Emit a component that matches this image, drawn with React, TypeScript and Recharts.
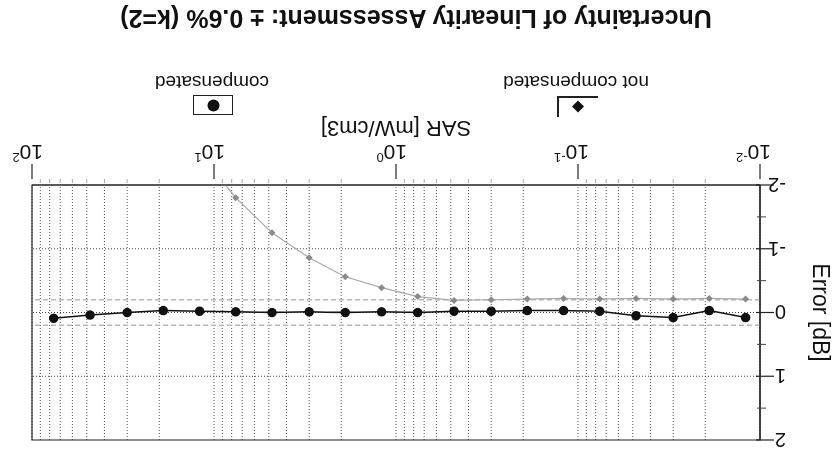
import React from 'react';
import { LineChart, Line, XAxis, YAxis, CartesianGrid, ReferenceLine, ReferenceArea, Label } from 'recharts';

// SAR steps (mW/cm3), 0.2 decade apart
const sarValues = [0.012, 0.019, 0.03, 0.048, 0.076, 0.12, 0.19, 0.3, 0.48, 0.76, 1.2, 1.9, 3.0, 4.8, 7.6, 12, 19, 30, 48, 76];
// linearity error in dB
const compensated = [0.08, -0.03, 0.08, 0.05, -0.02, -0.03, -0.03, -0.02, -0.02, 0.0, -0.01, 0.0, -0.01, 0.0, -0.01, -0.02, -0.03, 0.0, 0.04, 0.09];
const notCompensated = [-0.21, -0.22, -0.21, -0.22, -0.21, -0.22, -0.21, -0.2, -0.19, -0.25, -0.39, -0.56, -0.86, -1.25, -1.8, -2.5];

const decadeTicks = [0.01, 0.1, 1, 10, 100];
const minorTicks = [
  0.02, 0.03, 0.04, 0.05, 0.06, 0.07, 0.08, 0.09,
  0.2, 0.3, 0.4, 0.5, 0.6, 0.7, 0.8, 0.9,
  2, 3, 4, 5, 6, 7, 8, 9,
  20, 30, 40, 50, 60, 70, 80, 90,
];
const errorTicks = [-2, -1, 0, 1, 2];
const errorMinorTicks = [-1.5, -0.5, 0.5, 1.5];
const errorGrid = [-1, 0, 1];
const limitLines = [-0.2, 0.2];

const FONT = '"Liberation Sans", Arial, Helvetica, sans-serif';

const rows = sarValues.map((sar, i) => ({
  sar,
  comp: compensated[i],
  notComp: i < notCompensated.length ? notCompensated[i] : null,
}));

const xTickValues = [...decadeTicks, ...minorTicks].sort((a, b) => a - b);
const yTickValues = [...errorTicks, ...errorMinorTicks].sort((a, b) => a - b);

function SarTick(props: any) {
  const { x, y, payload } = props;
  const v = payload.value;
  if (!decadeTicks.includes(v)) {
    return <line x1={x} x2={x} y1={y} y2={y - 4} stroke="#aaa" />;
  }
  const exp = Math.round(Math.log10(v));
  return (
    <g>
      <line x1={x} x2={x} y1={y} y2={y + 15} stroke="#222" strokeWidth={1.2} />
      <text x={x - 11} y={y + 34} fontSize={21} fontFamily={FONT} fill="#111">
        10
        <tspan dy={-8} fontSize={13}>{exp}</tspan>
      </text>
    </g>
  );
}

function ErrorTick(props: any) {
  const { x, y, payload } = props;
  const v = payload.value;
  if (!errorTicks.includes(v)) {
    return <line x1={x} x2={x + 9} y1={y} y2={y} stroke="#444" />;
  }
  return (
    <g>
      <line x1={x - 8} x2={x + 10} y1={y} y2={y} stroke="#222" strokeWidth={1.2} />
      <text x={x - 20} y={y} dominantBaseline="central" fontSize={20} fontFamily={FONT} fill="#111">
        {String(v)}
      </text>
    </g>
  );
}

function Diamond(props: any) {
  const { cx, cy, value } = props;
  if (value == null || cx == null || cy == null) return null;
  const s = 3.5;
  return <polygon points={`${cx},${cy - s} ${cx + s},${cy} ${cx},${cy + s} ${cx - s},${cy}`} fill="#8a8a8a" />;
}

function XTitle(props: any) {
  const { viewBox } = props;
  return (
    <text x={viewBox.x + viewBox.width / 2} y={viewBox.y + 56} textAnchor="middle" dominantBaseline="central" fontSize={22} fontFamily={FONT} fill="#111">
      SAR [mW/cm3]
    </text>
  );
}

function YTitle(props: any) {
  const { viewBox } = props;
  const cx = viewBox.x + 14;
  const cy = viewBox.y + viewBox.height / 2;
  return (
    <text x={cx} y={cy} transform={`rotate(-90 ${cx} ${cy})`} textAnchor="middle" dominantBaseline="central" fontSize={23} fontFamily={FONT} fill="#111">
      Error [dB]
    </text>
  );
}

export default function App() {
  return (
    <div
      style={{
        position: 'fixed',
        left: 0,
        top: 0,
        width: 835,
        height: 459,
        background: '#fff',
        transform: 'rotate(180deg)',
        fontFamily: FONT,
        color: '#111',
      }}
    >
      <LineChart width={835} height={459} data={rows} margin={{ top: 19, right: 32, bottom: 0, left: 0 }}>
        <CartesianGrid horizontal={false} stroke="#555" strokeDasharray="1 2" />
        {errorGrid.map((v) => (
          <ReferenceLine key={`g${v}`} y={v} stroke="#444" strokeDasharray="1 2" />
        ))}
        {limitLines.map((v) => (
          <ReferenceLine key={`l${v}`} y={v} stroke="#b8b8b8" strokeWidth={1.3} strokeDasharray="5 3" />
        ))}
        <ReferenceArea x1={0.01} x2={100} y1={-2} y2={2} fill="none" stroke="#222" strokeWidth={1.2} ifOverflow="visible" />
        <XAxis
          dataKey="sar"
          type="number"
          scale="log"
          domain={[0.01, 100]}
          ticks={xTickValues}
          interval={0}
          allowDataOverflow
          tick={<SarTick />}
          tickLine={false}
          tickMargin={0}
          axisLine={{ stroke: '#222', strokeWidth: 1.2 }}
          height={185}
        >
          <Label content={<XTitle />} />
        </XAxis>
        <YAxis
          type="number"
          domain={[-2, 2]}
          ticks={yTickValues}
          interval={0}
          allowDataOverflow
          width={75}
          tick={<ErrorTick />}
          tickLine={false}
          tickMargin={0}
          axisLine={{ stroke: '#222', strokeWidth: 1.2 }}
        >
          <Label content={<YTitle />} />
        </YAxis>
        <Line
          dataKey="notComp"
          stroke="#aaaaaa"
          strokeWidth={1.2}
          dot={<Diamond />}
          connectNulls={false}
          isAnimationActive={false}
        />
        <Line
          dataKey="comp"
          stroke="#111"
          strokeWidth={1.5}
          dot={{ r: 4, fill: '#111', stroke: '#111' }}
          isAnimationActive={false}
        />
      </LineChart>

      {/* legend */}
      <div style={{ position: 'absolute', left: 237, top: 342, width: 41, height: 21, borderRight: '2px solid #222', borderBottom: '2px solid #222', boxSizing: 'border-box' }}>
        <svg width={41} height={21} style={{ position: 'absolute', left: 0, top: 0 }}>
          <polygon points="20,4.5 26,10.5 20,16.5 14,10.5" fill="#111" />
        </svg>
      </div>
      <div style={{ position: 'absolute', left: 159, width: 200, top: 366, textAlign: 'center', fontSize: 19, lineHeight: '22px' }}>
        not compensated
      </div>
      <div style={{ position: 'absolute', left: 602, top: 344, width: 40, height: 20, border: '1.5px solid #222', boxSizing: 'border-box' }}>
        <svg width={37} height={17} style={{ position: 'absolute', left: 0, top: 0 }}>
          <circle cx={18.5} cy={8.5} r={6} fill="#111" />
        </svg>
      </div>
      <div style={{ position: 'absolute', left: 523, width: 200, top: 366, textAlign: 'center', fontSize: 19, lineHeight: '22px' }}>
        compensated
      </div>

      <div style={{ position: 'absolute', left: 19, width: 800, top: 425, textAlign: 'center', fontSize: 25, fontWeight: 'bold', lineHeight: '30px' }}>
        Uncertainty of Linearity Assessment: ± 0.6% (k=2)
      </div>
    </div>
  );
}
